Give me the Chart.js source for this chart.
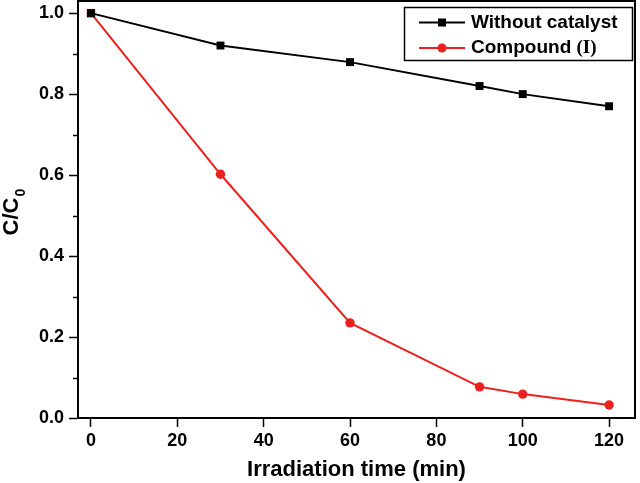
<!DOCTYPE html>
<html>
<head>
<meta charset="utf-8">
<script src="https://cdn.jsdelivr.net/npm/chart.js@4"></script>
<style>
  html, body { margin: 0; padding: 0; background: #fff; }
  #wrap { width: 640px; height: 483px; }
</style>
</head>
<body>
<div id="wrap"><canvas id="chart-line"></canvas></div>
<script>
// data
var timeMin = [0, 30, 60, 90, 100, 120];
var withoutCatalyst = [1.0, 0.92, 0.879, 0.82, 0.80, 0.77];
var compoundI = [1.0, 0.602, 0.235, 0.077, 0.059, 0.032];
var seriesLabels = ['Without catalyst', 'Compound (I)'];
var xTitle = 'Irradiation time (min)';
var yTitle = 'C/C';
var yTitleSub = '0';

var FONT = "'Liberation Sans', Arial, sans-serif";
var RED = 'rgb(236,32,28)';

function toPoints(ys) {
  return timeMin.map(function (t, i) { return { x: t, y: ys[i] }; });
}

function isMajor(v) {
  return Math.abs(Math.round(v * 5) - v * 5) < 1e-6;
}

// frame, minor ticks, y title and boxed legend
var extras = {
  id: 'extras',
  afterDraw: function (chart) {
    var c = chart.ctx, a = chart.chartArea, ys = chart.scales.y;
    c.save();
    c.strokeStyle = '#000';
    c.lineWidth = 2;
    c.beginPath();
    c.moveTo(a.left, a.top); c.lineTo(a.right, a.top); c.lineTo(a.right, a.bottom);
    c.stroke();

    // minor y ticks
    c.lineWidth = 1.5;
    ys.ticks.forEach(function (t) {
      if (isMajor(t.value)) return;
      var py = Math.round(ys.getPixelForValue(t.value)) + 0.5;
      c.beginPath(); c.moveTo(a.left - 5, py); c.lineTo(a.left, py); c.stroke();
    });

    // y title with subscript
    c.save();
    c.translate(12, 212);
    c.rotate(-Math.PI / 2);
    c.fillStyle = '#000';
    c.font = 'bold 22px ' + FONT;
    c.textBaseline = 'middle';
    var w = c.measureText(yTitle).width;
    var sw = 9;
    c.fillText(yTitle, -(w + sw) / 2, 0);
    c.font = 'bold 14px ' + FONT;
    c.fillText(yTitleSub, -(w + sw) / 2 + w + 1, 9);
    c.restore();

    // legend
    c.lineWidth = 1.5;
    c.strokeRect(404.5, 7.5, 228, 53);
    chart.data.datasets.forEach(function (ds, i) {
      var ry = 22.5 + i * 25.5;
      c.strokeStyle = ds.borderColor;
      c.fillStyle = ds.borderColor;
      c.lineWidth = 2;
      c.beginPath(); c.moveTo(419, ry); c.lineTo(465, ry); c.stroke();
      if (i === 0) {
        c.fillRect(442 - 4, ry - 4, 8, 8);
      } else {
        c.beginPath(); c.arc(442, ry, 4.5, 0, Math.PI * 2); c.fill();
      }
      c.fillStyle = '#000';
      c.textBaseline = 'middle';
      var label = ds.label, k = label.indexOf(' (');
      c.font = 'bold 19px ' + FONT;
      if (k < 0) {
        c.fillText(label, 471, ry);
      } else {
        var head = label.slice(0, k + 1);
        c.fillText(head, 471, ry);
        var hw = c.measureText(head).width;
        c.font = 'bold 19px "Liberation Serif", "Times New Roman", serif';
        c.fillText(label.slice(k + 1), 471 + hw, ry);
      }
    });
    c.restore();
  }
};

var ctx2 = document.getElementById('chart-line').getContext('2d');

new Chart(ctx2, {
  type: 'line',
  data: {
    datasets: [{
      label: seriesLabels[0],
      data: toPoints(withoutCatalyst),
      borderColor: '#000',
      backgroundColor: '#000',
      borderWidth: 2,
      pointStyle: 'rect',
      pointRadius: 5.6,
      pointBorderWidth: 0,
      tension: 0
    }, {
      label: seriesLabels[1],
      data: toPoints(compoundI),
      borderColor: RED,
      backgroundColor: RED,
      borderWidth: 2,
      pointStyle: function (ctx) { return ctx.dataIndex === 0 ? 'rect' : 'circle'; },
      pointRadius: function (ctx) { return ctx.dataIndex === 0 ? 6 : 4.7; },
      pointBorderWidth: 0,
      tension: 0
    }]
  },
  options: {
    responsive: true,
    maintainAspectRatio: false,
    animation: false,
    layout: { autoPadding: false, padding: { top: 1, right: 5, left: 0, bottom: 0 } },
    plugins: {
      legend: { display: false },
      tooltip: { enabled: false }
    },
    scales: {
      x: {
        type: 'linear',
        min: -3,
        max: 126,
        afterFit: function (s) {
          s.height = 65;
          s.paddingLeft = 0; s.paddingRight = 0;
        },
        border: { display: true, color: '#000', width: 2 },
        grid: {
          drawOnChartArea: false,
          drawTicks: true,
          tickLength: 9,
          tickColor: '#000',
          tickWidth: 1.5
        },
        ticks: {
          stepSize: 20,
          includeBounds: false,
          color: '#000',
          padding: 3,
          maxRotation: 0,
          font: { size: 18, weight: 'bold', family: FONT }
        },
        title: {
          display: true,
          text: xTitle,
          color: '#000',
          padding: { top: 0, bottom: 0 },
          font: { size: 22, weight: 'bold', family: FONT }
        }
      },
      y: {
        min: 0,
        max: 1.03,
        afterFit: function (s) {
          s.width = 78;
          s.paddingTop = 0; s.paddingBottom = 0;
        },
        border: { display: true, color: '#000', width: 2 },
        grid: {
          drawOnChartArea: false,
          drawTicks: true,
          tickLength: 9,
          tickWidth: 1.5,
          tickColor: function (ctx) { return isMajor(ctx.tick.value) ? '#000' : 'rgba(0,0,0,0)'; }
        },
        ticks: {
          stepSize: 0.1,
          includeBounds: false,
          color: '#000',
          padding: 5,
          font: { size: 18, weight: 'bold', family: FONT },
          callback: function (v) { return isMajor(v) ? v.toFixed(1) : ''; }
        }
      }
    }
  },
  plugins: [extras]
});
</script>
</body>
</html>
